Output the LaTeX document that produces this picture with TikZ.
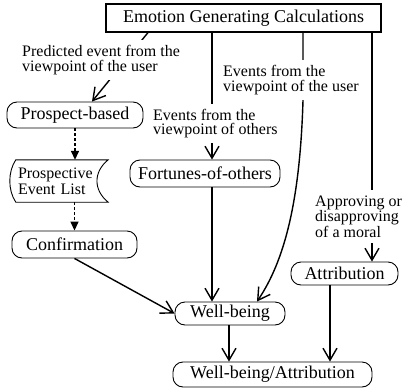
\documentclass[tikz,border=0pt]{standalone}
\usepackage{fontspec}
\setmainfont{Liberation Serif}
\usetikzlibrary{arrows.meta}
\begin{document}
\begin{tikzpicture}[x=1pt,y=-1pt,
  box/.style={draw,rounded corners=10pt,line width=0.9pt,inner sep=0pt,font=\fontsize{18}{20}\selectfont},
  lbl/.style={fill=white,inner xsep=1pt,inner ysep=5pt,align=left,anchor=west},
  conn/.style={line width=1.4pt,-{Straight Barb[length=12pt,width=14pt]}},
  dconn/.style={line width=1.4pt,dash pattern=on 3pt off 2pt,-{Triangle[length=9pt,width=8pt]}},
]
\useasboundingbox (0,0) rectangle (402,389);
% nodes
\node[draw,line width=1.1pt,minimum width=275pt,minimum height=28pt,inner sep=0pt,font=\fontsize{18}{20}\selectfont] (top) at (243.5,18) {Emotion Generating Calculations};
\node[box,minimum width=136pt,minimum height=26pt] (pb) at (75,115) {Prospect-based};
\node[inner sep=0pt,minimum width=98pt,minimum height=42pt,text width=82pt,align=left,font=\fontsize{16}{16}\selectfont] (pel) at (59,181) {Prospective\\Event List};
\draw[line width=0.9pt] ([xshift=6pt]pel.north west) -- (pel.north east)
  .. controls ([xshift=-15pt,yshift=-12pt]pel.north east) and ([xshift=-15pt,yshift=12pt]pel.south east) .. (pel.south east)
  -- ([xshift=6pt]pel.south west)
  .. controls ([xshift=-2pt,yshift=12pt]pel.south west) and ([xshift=-2pt,yshift=-12pt]pel.north west) .. ([xshift=6pt]pel.north west) -- cycle;
\node[box,minimum width=125pt,minimum height=27pt] (conf) at (74.5,244.5) {Confirmation};
\node[box,minimum width=150pt,minimum height=27pt] (foo) at (205,173.5) {Fortunes-of-others};
\node[box,minimum width=110pt,minimum height=23pt] (wb) at (230,313.5) {Well-being};
\node[box,minimum width=107pt,minimum height=23pt] (attr) at (344.5,273.5) {Attribution};
\node[box,minimum width=199pt,minimum height=25pt] (wba) at (272.5,374.5) {Well-being/Attribution};
% line positions
\coordinate (xA) at (148,0);
\coordinate (xB) at (212,0);
\coordinate (xC) at (303,0);
\coordinate (xD) at (372,0);
\coordinate (xE) at (229,0);
\coordinate (xF) at (330,0);
% connectors
\draw[conn] (xA |- top.south) -- ([xshift=17pt]pb.north);
\draw[conn] (xB |- top.south) -- (xB |- foo.north);
\draw[conn] (xC |- top.south) -- ++(0,68) .. controls (300,200) and (285,260) .. ([xshift=27pt]wb.north);
\draw[conn] (xD |- top.south) -- (xD |- attr.north);
\draw[dconn] (pb.south) -- (pb.south |- pel.north);
\draw[dconn] (conf.north |- pel.south) -- (conf.north);
\draw[conn] (conf.south) -- (wb.west);
\draw[conn] (xB |- foo.south) -- (xB |- wb.north);
\draw[conn] (xE |- wb.south) -- (xE |- wba.north);
\draw[conn] (xF |- attr.south) -- (xF |- wba.north);
% labels
\node[lbl,font=\fontsize{16}{14.5}\selectfont] (la) at (21,60) {Predicted event from the\\viewpoint of the user};
\node[lbl,font=\fontsize{16}{14.5}\selectfont] (lb) at (152,123.5) {Events from the\\viewpoint of others};
\node[lbl,font=\fontsize{16}{14.5}\selectfont] (lc) at (222,80) {Events from the\\viewpoint of the user};
\node[lbl,font=\fontsize{16}{14}\selectfont] (ld) at (314,216.5) {Approving or\\disapproving\\of a moral};
\end{tikzpicture}
\end{document}
